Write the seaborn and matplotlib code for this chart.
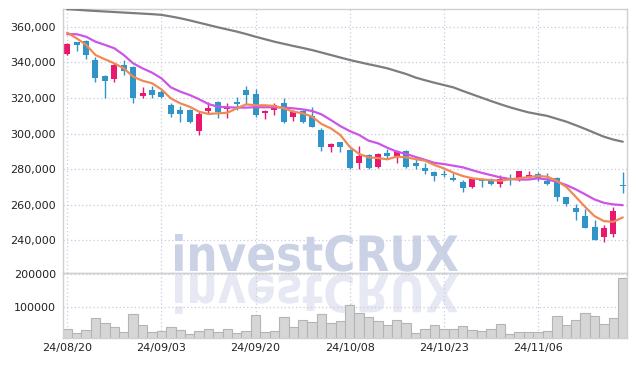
import matplotlib
matplotlib.use('Agg')
import numpy as np
import pandas as pd
import matplotlib.pyplot as plt
import seaborn as sns
from matplotlib.textpath import TextPath
from matplotlib.patches import PathPatch
from matplotlib.font_manager import FontProperties
from matplotlib.transforms import Affine2D

sns.set_theme(style='white')
plt.rcParams['font.family'] = ['DejaVu Sans']

## Data (prices in thousands) ##
tick_pos = [0, 10, 20, 30, 40, 50]
tick_labels = ['24/08/20', '24/09/03', '24/09/20', '24/10/08', '24/10/23', '24/11/06']

opens = [344.8, 351.4, 352.1, 341.4, 332.4, 330.5, 338.6, 337.3, 321.1, 324.5,
         323.6, 316.0, 313.2, 313.2, 301.4, 312.9, 317.8, 313.6, 317.2, 324.5,
         322.3, 311.7, 313.2, 317.0, 309.5, 312.7, 310.1, 302.0, 292.6, 295.0,
         290.7, 283.2, 287.9, 280.9, 289.2, 286.6, 290.1, 283.6, 280.4, 278.6,
         277.2, 274.3, 273.0, 270.0, 273.5, 273.8, 271.5, 274.7, 274.2, 275.3,
         277.2, 273.4, 274.7, 264.0, 258.2, 253.7, 247.5, 242.0, 243.3, 271.3]
highs = [350.8, 351.6, 352.6, 343.0, 332.8, 339.5, 341.5, 338.0, 326.3, 326.5,
         324.6, 317.0, 315.5, 313.8, 312.5, 317.5, 318.5, 317.0, 320.5, 326.5,
         325.0, 313.2, 317.0, 319.8, 313.5, 313.5, 315.0, 303.0, 294.5, 295.5,
         291.5, 293.0, 288.5, 289.0, 291.4, 291.0, 291.0, 285.4, 283.4, 279.0,
         279.4, 277.6, 274.0, 274.5, 274.8, 275.0, 276.8, 277.2, 279.0, 278.8,
         278.5, 278.0, 275.8, 264.4, 260.5, 257.5, 251.5, 248.5, 258.5, 278.3]
lows = [344.1, 346.5, 342.0, 329.0, 320.2, 329.0, 333.0, 317.0, 320.0, 319.8,
        320.0, 309.5, 306.6, 306.0, 299.4, 311.0, 308.8, 309.0, 313.4, 316.5,
        309.3, 308.0, 310.2, 306.0, 307.0, 306.0, 303.5, 290.0, 289.8, 289.8,
        280.0, 280.1, 280.0, 280.5, 285.4, 283.4, 280.8, 280.2, 277.0, 273.5,
        275.5, 273.1, 267.0, 269.5, 270.0, 271.0, 270.0, 271.0, 273.5, 274.8,
        273.5, 271.0, 262.0, 259.0, 251.5, 246.6, 240.0, 238.7, 242.0, 266.6]
closes = [350.4, 349.9, 344.2, 331.1, 329.6, 338.6, 335.4, 319.8, 322.6, 321.7,
          320.5, 310.8, 310.8, 306.5, 310.8, 314.2, 312.1, 315.0, 316.9, 321.7,
          310.4, 312.8, 316.0, 306.7, 312.3, 306.7, 303.9, 292.6, 294.0, 292.6,
          280.5, 287.3, 280.4, 288.5, 287.3, 290.1, 281.3, 281.7, 279.0, 276.2,
          276.6, 273.9, 269.5, 274.2, 273.1, 271.5, 274.2, 273.8, 278.8, 276.6,
          274.2, 271.5, 264.4, 260.3, 255.9, 246.6, 240.0, 246.6, 256.6, 270.4]

ma_short = [356.8, 353.6, 349.9, 344.2, 341.8, 339.5, 336.7, 332.0, 329.7, 328.3,
            324.9, 319.8, 317.0, 315.1, 312.3, 311.0, 311.4, 311.7, 314.2, 316.4,
            315.9, 315.9, 315.5, 314.2, 312.3, 311.4, 309.5, 305.4, 302.9, 299.2,
            292.5, 288.5, 286.6, 286.2, 285.5, 287.0, 286.6, 285.6, 284.7, 282.3,
            280.4, 278.0, 276.1, 274.8, 274.2, 273.8, 273.4, 274.2, 274.8, 275.5,
            276.1, 275.7, 273.4, 270.0, 264.4, 258.7, 253.5, 250.7, 250.3, 252.8]
ma_mid = [355.9, 355.9, 354.5, 351.7, 349.9, 348.0, 344.2, 339.5, 336.7, 334.3,
          331.1, 326.0, 323.6, 321.7, 319.3, 316.6, 315.1, 314.8, 314.6, 314.6,
          314.8, 314.8, 314.8, 314.6, 314.2, 313.6, 312.7, 310.8, 307.6, 304.2,
          301.4, 299.2, 296.0, 294.5, 292.0, 289.8, 288.5, 286.8, 285.2, 283.5,
          282.8, 281.9, 281.0, 279.4, 277.9, 276.6, 275.3, 274.4, 274.1, 274.1,
          274.8, 274.1, 272.9, 271.0, 268.6, 265.8, 262.9, 261.0, 260.1, 259.7]
ma_long = [370.0, 369.7, 369.3, 369.0, 368.7, 368.4, 368.1, 367.8, 367.5, 367.2,
           366.8, 365.9, 364.9, 363.7, 362.4, 361.1, 359.8, 358.6, 357.4, 356.0,
           354.5, 353.1, 351.7, 350.5, 349.3, 348.2, 347.0, 345.6, 344.2, 342.8,
           341.4, 340.2, 339.0, 337.9, 336.7, 335.1, 333.5, 331.5, 330.0, 328.6,
           327.3, 326.0, 324.0, 322.1, 320.2, 318.3, 316.5, 314.8, 313.3, 311.9,
           310.9, 309.9, 308.3, 306.7, 304.7, 302.6, 300.4, 298.2, 296.6, 295.4]

# volume in thousands
volume = [30, 17.5, 28, 64, 48, 36, 21, 76, 43, 21,
          24, 36, 27, 14.5, 24, 30, 21, 30, 17.5, 24,
          73, 21, 24, 67, 37, 58, 51.5, 76, 48, 54.6,
          104, 79, 67, 54.6, 42, 58, 48, 17.5, 30, 42,
          30, 30, 39, 27, 24, 30, 45, 14.5, 21, 21,
          21, 24, 70, 42, 58, 79, 70, 45, 64, 187]

df = pd.DataFrame({'open': opens, 'high': highs, 'low': lows, 'close': closes,
                   'ma5': ma_short, 'ma20': ma_mid, 'ma60': ma_long, 'vol': volume})
df[['open', 'high', 'low', 'close', 'ma5', 'ma20', 'ma60', 'vol']] *= 1000
df['x'] = np.arange(len(df))

up_col = '#e8186d'
down_col = '#2f95c9'
grid_col = '#c8cbe2'
spine_col = '#d0d0d0'
text_col = '#222222'

W, H = 637, 366
fig = plt.figure(figsize=(W / 100, H / 100), dpi=100)
ax = fig.add_axes([63 / W, 93 / H, 564 / W, 264 / H])
axv = fig.add_axes([63 / W, 28.5 / H, 564 / W, 64.5 / H])

for a in (ax, axv):
    a.set_facecolor('none')
    a.set_xlim(-0.45, 59.45)
    a.set_xticks(tick_pos)
    a.grid(True, color=grid_col, linestyle=(0, (1, 2)), lw=0.9)
    for s in a.spines.values():
        s.set_color(spine_col)
        s.set_linewidth(1)
    a.tick_params(length=0, labelsize=8, labelcolor=text_col)

## candles ##
up = df['close'] >= df['open']
colors = np.where(up, up_col, down_col)
ax.vlines(df['x'], df['low'], df['high'], colors=colors, lw=1, zorder=2)
body_bottom = np.minimum(df['open'], df['close'])
body_h = np.maximum((df['close'] - df['open']).abs(), 800)
ax.bar(df['x'], body_h, bottom=body_bottom, width=0.64, color=colors, lw=0, zorder=2)

## moving averages ##
sns.lineplot(data=df, x='x', y='ma60', ax=ax, color='#7d7d7d', lw=1.6, zorder=3)
sns.lineplot(data=df, x='x', y='ma20', ax=ax, color='#cc55e6', lw=1.6, zorder=3)
sns.lineplot(data=df, x='x', y='ma5', ax=ax, color='#ef8a55', lw=1.6, zorder=3)

ax.set_ylim(221500, 370100)
yt = list(range(240000, 360001, 20000))
ax.set_yticks(yt)
ax.set_yticklabels([f'{v:,}' for v in yt])
ax.set_xticklabels([])
ax.set_xlabel('')
ax.set_ylabel('')
ax.tick_params(axis='y', pad=5)

## volume ##
axv.bar(df['x'], df['vol'], width=1.0, color='#d6d6d6', edgecolor='#b4b4b4', lw=0.8, zorder=2)
axv.set_ylim(4600, 204000)
axv.set_yticks([100000, 200000])
axv.set_yticklabels(['100000', '200000'])
axv.set_xticklabels(tick_labels)
axv.tick_params(axis='y', pad=5)
axv.tick_params(axis='x', pad=4)

## watermark ##
fp = FontProperties(family='DejaVu Sans', weight='bold')
tp = TextPath((0, 0), 'investCRUX', size=1, prop=fp)
ext = tp.get_extents()
sx = 283 / ext.width
sy = 37 / ext.y1
x0 = 175 - ext.x0 * sx
main_tr = Affine2D().scale(sx, sy).translate(x0, H - 271)
refl_tr = Affine2D().scale(sx, -sy * 1.05).translate(x0, H - 275)
fig.add_artist(PathPatch(tp, transform=refl_tr, facecolor='#e6e9f3', lw=0, zorder=-2))
fig.add_artist(PathPatch(tp, transform=main_tr, facecolor='#cbd2e6', lw=0, zorder=-1))

plt.savefig('out.png', dpi=100)
